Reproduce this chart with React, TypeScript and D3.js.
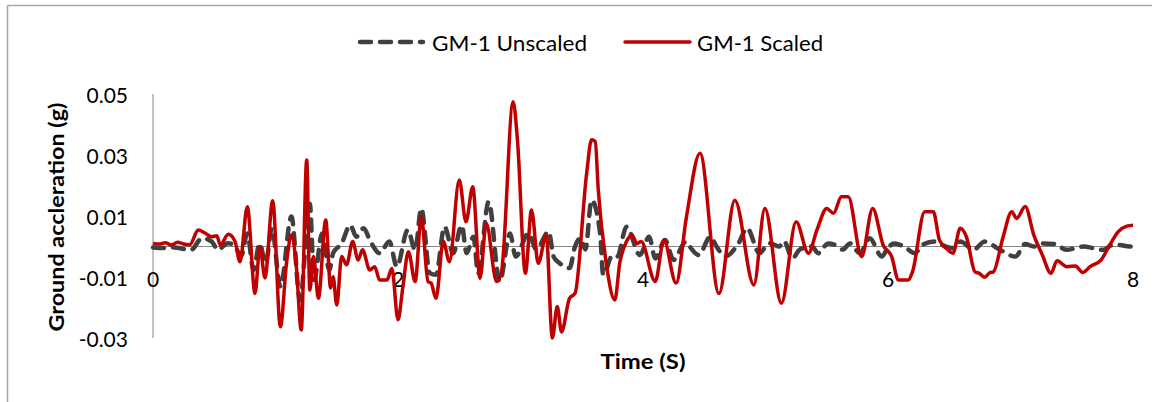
import React from "react";
import * as d3 from "d3";

const scaledTime = [0, 0.05, 0.1, 0.15, 0.2, 0.25, 0.3, 0.37, 0.42, 0.48, 0.52, 0.55, 0.615, 0.67, 0.71, 0.77, 0.833, 0.873, 0.914, 0.977, 1.04, 1.09, 1.13, 1.17, 1.21, 1.255, 1.28, 1.31, 1.35, 1.41, 1.45, 1.47, 1.5, 1.54, 1.58, 1.63, 1.675, 1.71, 1.77, 1.81, 1.85, 1.91, 1.95, 2.0, 2.04, 2.085, 2.14, 2.19, 2.245, 2.27, 2.31, 2.37, 2.42, 2.5, 2.555, 2.61, 2.67, 2.72, 2.805, 2.845, 2.94, 2.975, 3.04, 3.09, 3.145, 3.21, 3.26, 3.3, 3.335, 3.4, 3.445, 3.54, 3.58, 3.61, 3.635, 3.7, 3.77, 3.81, 3.865, 3.91, 3.95, 3.985, 4.1, 4.17, 4.27, 4.355, 4.465, 4.62, 4.75, 4.905, 4.995, 5.13, 5.25, 5.35, 5.42, 5.5, 5.555, 5.62, 5.675, 5.785, 5.875, 5.96, 6.03, 6.085, 6.165, 6.2, 6.3, 6.37, 6.42, 6.49, 6.53, 6.59, 6.64, 6.71, 6.745, 6.79, 6.83, 6.86, 6.94, 7.01, 7.05, 7.12, 7.19, 7.26, 7.33, 7.38, 7.46, 7.53, 7.59, 7.65, 7.74, 7.81, 7.88, 7.95, 8.0];
const scaledAccel = [0.001, 0.0008, 0.0012, 0.0005, 0.0014, 0.0008, 0.0006, 0.0054, 0.0045, 0.0032, 0.0035, 0.0005, 0.004, 0.0016, -0.005, 0.013, -0.0154, 0, -0.0103, 0.015, -0.0263, -0.0054, 0.0038, -0.0066, -0.0274, 0.0284, -0.0143, -0.0033, -0.017, 0.0087, -0.0136, -0.0099, -0.0192, -0.0033, -0.006, 0.0016, -0.0044, -0.0011, -0.0077, -0.0066, -0.011, -0.011, -0.0072, -0.024, -0.0132, -0.0017, -0.0115, 0.0098, -0.0115, -0.012, -0.017, 0.0016, -0.005, 0.0218, 0.0081, 0.0196, -0.0104, 0.0076, -0.0115, -0.0083, 0.0475, 0.035, -0.0088, 0.012, -0.0055, 0.0038, -0.03, -0.0197, -0.028, -0.017, -0.0154, 0.024, 0.035, 0.0344, 0.0185, -0.0055, -0.0175, -0.0055, 0.0016, 0.0038, 0.001, 0.0016, -0.0115, 0.0021, -0.012, 0.0098, 0.0306, -0.0154, 0.0152, -0.0126, 0.0125, -0.0186, 0.0081, -0.0022, 0.0054, 0.0125, 0.0109, 0.0163, 0.0163, -0.0033, 0.0125, 0.0005, -0.0033, -0.011, -0.011, -0.0083, 0.0114, 0.0114, 0.0021, -0.0011, -0.0022, 0.006, 0.0032, -0.0083, -0.0088, -0.0101, -0.0086, -0.0083, 0.0032, 0.0114, 0.0092, 0.0131, 0.0038, -0.0028, -0.0088, -0.0047, -0.0066, -0.0064, -0.0085, -0.0066, -0.0044, 0.0005, 0.0049, 0.0067, 0.007];

const unscaledTime = [0, 0.08, 0.15, 0.22, 0.31, 0.4, 0.48, 0.53, 0.61, 0.66, 0.72, 0.77, 0.82, 0.87, 0.92, 0.97, 1.04, 1.13, 1.2, 1.28, 1.315, 1.38, 1.44, 1.47, 1.54, 1.61, 1.66, 1.72, 1.77, 1.85, 1.93, 1.99, 2.08, 2.14, 2.19, 2.26, 2.31, 2.38, 2.45, 2.52, 2.56, 2.615, 2.655, 2.74, 2.83, 2.915, 2.96, 3.065, 3.13, 3.23, 3.27, 3.32, 3.4, 3.445, 3.49, 3.53, 3.58, 3.65, 3.675, 3.75, 3.79, 3.865, 3.975, 4.05, 4.1, 4.18, 4.25, 4.35, 4.4, 4.455, 4.55, 4.6, 4.67, 4.78, 4.85, 4.95, 5.03, 5.11, 5.15, 5.22, 5.28, 5.38, 5.43, 5.51, 5.57, 5.63, 5.69, 5.77, 5.85, 5.95, 5.99, 6.05, 6.13, 6.22, 6.28, 6.38, 6.47, 6.53, 6.59, 6.7, 6.79, 6.91, 7.04, 7.12, 7.19, 7.27, 7.36, 7.46, 7.53, 7.6, 7.67, 7.76, 7.82, 7.89, 7.97, 8.0];
const unscaledAccel = [-0.0003, -0.0005, -0.0002, -0.0006, -0.0011, 0.0027, 0.0016, -0.0011, 0.0011, 0.0005, -0.003, 0.0043, -0.0077, 0.001, -0.0055, 0.006, -0.0132, 0.0098, -0.0175, 0.014, -0.011, 0.0043, -0.0077, -0.0022, 0.001, 0.007, 0.0032, 0.006, 0.0021, -0.0022, 0.0016, -0.0066, 0.0054, -0.0011, 0.0125, -0.0088, -0.0093, 0.0065, -0.0022, 0.007, -0.0022, 0.0032, -0.0088, 0.0147, -0.0115, 0.0043, -0.0033, 0.0043, -0.001, 0.0049, -0.0033, -0.0055, -0.0071, 0, 0.0027, -0.001, 0.0152, 0.0043, -0.0093, -0.003, -0.0033, 0.0065, -0.0028, 0.0032, -0.0039, 0.0021, -0.0044, 0.0016, -0.001, -0.0028, 0.0032, 0, -0.0033, 0.0011, 0.006, -0.0022, 0.0011, 0, 0.0018, -0.0039, -0.001, 0, -0.0022, 0.001, 0.0005, -0.001, 0.001, -0.0022, 0.0027, -0.0033, -0.001, 0.001, 0, -0.0022, 0.0005, 0.0016, 0, -0.0005, 0.0016, -0.001, 0.0016, -0.001, -0.0033, 0.0008, 0, 0.001, 0.0008, -0.0011, -0.0005, 0, -0.0005, -0.0011, 0.0003, 0.0005, 0, 0];

const xTicks = [0, 2, 4, 6, 8];
const yTicks = [0.05, 0.03, 0.01, -0.01, -0.03];
const seriesNames = ["GM-1 Unscaled", "GM-1 Scaled"];

const FONT = "Lato, 'Open Sans', sans-serif";
const RED = "#C00000";
const GRAY = "#404040";

export default function App() {
  const W = 1161;
  const H = 402;
  const x = d3.scaleLinear().domain([0, 8]).range([153, 1133]);
  const y = d3.scaleLinear().domain([-0.03, 0.05]).range([338, 94]);

  const line = d3
    .line<[number, number]>()
    .x((d) => x(d[0]))
    .y((d) => y(d[1]))
    .curve(d3.curveMonotoneX);

  const scaledData: [number, number][] = scaledTime.map((t, i) => [t, scaledAccel[i]]);
  const unscaledData: [number, number][] = unscaledTime.map((t, i) => [t, unscaledAccel[i]]);

  const y0 = y(0);

  return (
    <svg
      width={W}
      height={H}
      style={{ position: "absolute", left: 0, top: 0, background: "#fff" }}
    >
      {/* chart border */}
      <line x1={7.5} y1={5.5} x2={1152} y2={5.5} stroke="#A6A6A6" strokeWidth={1.5} />
      <line x1={7.5} y1={5.5} x2={7.5} y2={H} stroke="#A6A6A6" strokeWidth={1.5} />

      {/* legend */}
      <line x1={360} y1={42} x2={423} y2={42} stroke={GRAY} strokeWidth={4.5} strokeDasharray="11,9" strokeLinecap="round" />
      <text x={432} y={42} dominantBaseline="central" fontFamily={FONT} fontSize={21} fill="#000" textLength={155} lengthAdjust="spacingAndGlyphs">
        {seriesNames[0]}
      </text>
      <line x1={625} y1={42} x2={690} y2={42} stroke={RED} strokeWidth={3.5} strokeLinecap="round" />
      <text x={697} y={42} dominantBaseline="central" fontFamily={FONT} fontSize={21} fill="#000" textLength={126} lengthAdjust="spacingAndGlyphs">
        {seriesNames[1]}
      </text>

      {/* axes */}
      <line x1={x(0)} y1={y(0.05)} x2={x(0)} y2={y(-0.03)} stroke="#868686" strokeWidth={1} />
      <line x1={x(0)} y1={y0} x2={x(8)} y2={y0} stroke="#868686" strokeWidth={1.2} />

      {yTicks.map((t) => (
        <text key={t} x={128} y={y(t)} textAnchor="end" dominantBaseline="central" fontFamily={FONT} fontSize={21} fill="#000">
          {t.toFixed(2)}
        </text>
      ))}
      {xTicks.map((t) => (
        <text key={t} x={x(t)} y={278} textAnchor="middle" dominantBaseline="central" fontFamily={FONT} fontSize={21} fill="#000">
          {t}
        </text>
      ))}

      {/* series */}
      <path d={line(unscaledData) || ""} fill="none" stroke={GRAY} strokeWidth={4.5} strokeDasharray="11,9" strokeLinecap="round" strokeLinejoin="round" />
      <path d={line(scaledData) || ""} fill="none" stroke={RED} strokeWidth={3.5} strokeLinejoin="round" />

      {/* titles */}
      <text x={643} y={360} textAnchor="middle" dominantBaseline="central" fontFamily={FONT} fontWeight="bold" fontSize={21} fill="#000" textLength={85} lengthAdjust="spacingAndGlyphs">
        Time (S)
      </text>
      <text
        transform={`translate(55,217) rotate(-90)`}
        textAnchor="middle"
        dominantBaseline="central"
        fontFamily={FONT}
        fontWeight="bold"
        fontSize={21}
        fill="#000"
        textLength={229}
        lengthAdjust="spacingAndGlyphs"
      >
        Ground accleration (g)
      </text>
    </svg>
  );
}
